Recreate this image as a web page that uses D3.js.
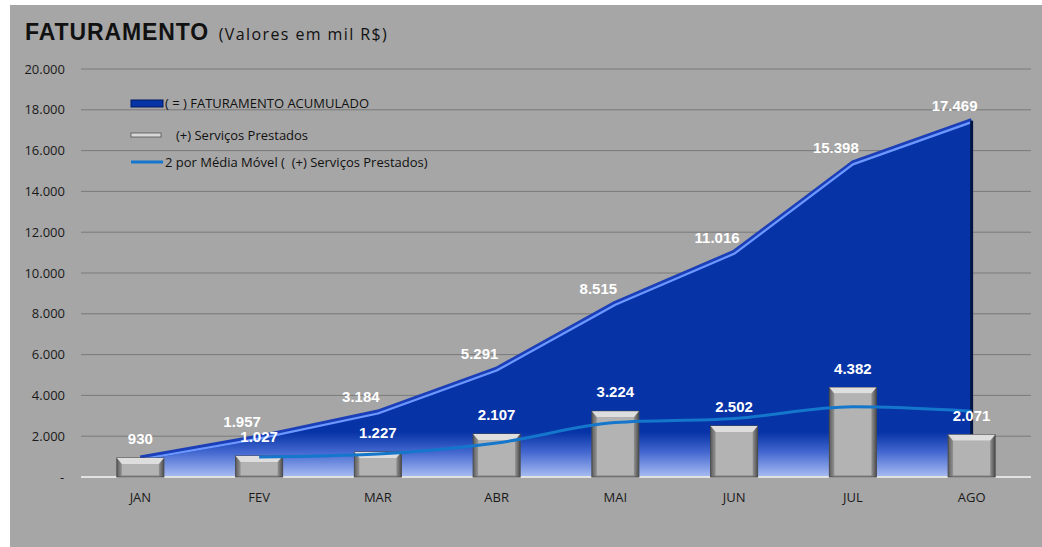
<!DOCTYPE html>
<html>
<head>
<meta charset="utf-8">
<script src="https://cdn.jsdelivr.net/npm/d3@7"></script>
<style>
  body { margin: 0; background: #fff; }
  svg { display: block; }
</style>
</head>
<body>
<div id="chart"></div>
<script>
// data
const months = ["JAN", "FEV", "MAR", "ABR", "MAI", "JUN", "JUL", "AGO"];
const acumulado = [930, 1957, 3184, 5291, 8515, 11016, 15398, 17469];
const servicos = [930, 1027, 1227, 2107, 3224, 2502, 4382, 2071];
// 2 period moving average, starts at FEV
const mediaMovel = [null, 979, 1127, 1667, 2666, 2863, 3442, 3227];
const yTicks = [0, 2000, 4000, 6000, 8000, 10000, 12000, 14000, 16000, 18000, 20000];

const W = 1042, H = 547;
const margin = { top: 69, right: 11, bottom: 70, left: 81 };

const fmt = v => v === 0 ? "-" : d3.format(",d")(v).replace(/,/g, ".");

const svg = d3.select("#chart").append("svg")
    .attr("width", W).attr("height", H)
    .style("font-family", "'Open Sans', 'Liberation Sans', sans-serif");

// panel
svg.append("rect").attr("x", 10).attr("y", 5).attr("width", W - 10).attr("height", H - 5).attr("fill", "#a6a6a6");

const x = d3.scaleBand().domain(months).range([margin.left, W - margin.right]);
const y = d3.scaleLinear().domain([0, 20000]).range([H - margin.bottom, margin.top]);
const cx = d => x(d) + x.bandwidth() / 2;

const defs = svg.append("defs");
const areaGrad = defs.append("linearGradient").attr("id", "areaGrad")
    .attr("gradientUnits", "userSpaceOnUse")
    .attr("x1", 0).attr("x2", 0).attr("y1", y(2200)).attr("y2", y(0));
areaGrad.append("stop").attr("offset", 0).attr("stop-color", "#0633a6");
areaGrad.append("stop").attr("offset", 0.45).attr("stop-color", "#4468d0");
areaGrad.append("stop").attr("offset", 1).attr("stop-color", "#a9bdf2");

const barGrad = defs.append("linearGradient").attr("id", "barGrad")
    .attr("x1", 0).attr("x2", 1).attr("y1", 0).attr("y2", 0);
barGrad.append("stop").attr("offset", 0).attr("stop-color", "#5e5e5e");
barGrad.append("stop").attr("offset", 0.12).attr("stop-color", "#9a9a9a");
barGrad.append("stop").attr("offset", 0.88).attr("stop-color", "#9a9a9a");
barGrad.append("stop").attr("offset", 1).attr("stop-color", "#4e4e4e");

// title
const title = svg.append("text").attr("x", 25).attr("y", 40);
title.append("tspan").text("FATURAMENTO")
    .attr("font-size", 23).attr("font-weight", "bold").attr("fill", "#111")
    .attr("font-family", "'Liberation Sans', sans-serif").attr("letter-spacing", 0.9);
title.append("tspan").text(" (Valores em mil R$)").attr("dx", 4)
    .attr("font-size", 16).attr("fill", "#111").attr("letter-spacing", 1.4);

// grid
svg.append("g").selectAll("line").data(yTicks.filter(d => d > 0)).join("line")
    .attr("x1", margin.left).attr("x2", W - margin.right)
    .attr("y1", d => y(d)).attr("y2", d => y(d))
    .attr("stroke", "#7a7a7a").attr("stroke-width", 1);

// y axis labels
svg.append("g").selectAll("text").data(yTicks).join("text")
    .attr("x", d => d === 0 ? 62 : 65).attr("y", d => y(d)).attr("dy", "0.35em")
    .attr("text-anchor", d => d === 0 ? "middle" : "end")
    .attr("font-size", 13).attr("fill", "#1a1a1a")
    .text(fmt);

// area: faturamento acumulado
const pts = months.map((m, i) => ({ m, v: acumulado[i] }));
const area = d3.area().x(d => cx(d.m)).y0(y(0)).y1(d => y(d.v));
svg.append("path").datum(pts).attr("d", area).attr("fill", "url(#areaGrad)");

const topLine = d3.line().x(d => cx(d.m)).y(d => y(d.v));
svg.append("path").datum(pts).attr("d", topLine)
    .attr("fill", "none").attr("stroke", "#1a3fb8").attr("stroke-width", 5).attr("stroke-linejoin", "round");
svg.append("path").datum(pts).attr("d", topLine)
    .attr("transform", "translate(0,1.5)")
    .attr("fill", "none").attr("stroke", "#6c98ff").attr("stroke-width", 2.2).attr("stroke-linejoin", "round");
// right edge shadow
const last = pts[pts.length - 1];
svg.append("line")
    .attr("x1", cx(last.m)).attr("x2", cx(last.m))
    .attr("y1", y(last.v)).attr("y2", y(0))
    .attr("stroke", "#001545").attr("stroke-width", 3);

// x axis baseline
svg.append("line")
    .attr("x1", margin.left).attr("x2", W - margin.right)
    .attr("y1", y(0)).attr("y2", y(0))
    .attr("stroke", "#e2e2e2").attr("stroke-width", 2);

// bars: servicos prestados
const bw = 47;
const bars = svg.append("g").selectAll("g").data(months.map((m, i) => ({ m, v: servicos[i] }))).join("g");
bars.append("rect")
    .attr("x", d => cx(d.m) - bw / 2).attr("y", d => y(d.v))
    .attr("width", bw).attr("height", d => y(0) - y(d.v))
    .attr("fill", "url(#barGrad)").attr("stroke", "#4a4a4a").attr("stroke-width", 1);
bars.append("path")
    .attr("d", d => {
        const x0 = cx(d.m) - bw / 2, x1 = x0 + bw, t = y(d.v);
        return `M${x0},${t}L${x1},${t}L${x1 - 5},${t + 6}L${x0 + 5},${t + 6}Z`;
    })
    .attr("fill", "#dedede");
bars.append("rect")
    .attr("x", d => cx(d.m) - bw / 2 + 5).attr("y", d => y(d.v) + 6)
    .attr("width", bw - 10).attr("height", d => Math.max(0, y(0) - y(d.v) - 8))
    .attr("fill", "#b3b3b3");

// moving average
const maPts = months.map((m, i) => ({ m, v: mediaMovel[i] })).filter(d => d.v != null);
svg.append("path").datum(maPts)
    .attr("d", d3.line().x(d => cx(d.m)).y(d => y(d.v)).curve(d3.curveMonotoneX))
    .attr("fill", "none").attr("stroke", "#1477cc").attr("stroke-width", 3);

// x labels
svg.append("g").selectAll("text").data(months).join("text")
    .attr("x", cx).attr("y", y(0) + 20).attr("dy", "0.35em")
    .attr("text-anchor", "middle").attr("font-size", 13).attr("fill", "#1a1a1a")
    .text(d => d);

// data labels
const lbl = g => g.attr("text-anchor", "middle").attr("font-size", 15).attr("font-weight", "bold")
    .attr("fill", "#fff").attr("font-family", "'Liberation Sans', sans-serif");
svg.append("g").selectAll("text").data(pts.slice(1)).join("text")
    .attr("x", d => cx(d.m) - 17).attr("y", d => y(d.v) - 15).attr("dy", "0.35em")
    .call(lbl).text(d => fmt(d.v));
svg.append("g").selectAll("text").data(months.map((m, i) => ({ m, v: servicos[i] }))).join("text")
    .attr("x", d => cx(d.m)).attr("y", d => y(d.v) - 19).attr("dy", "0.35em")
    .call(lbl).text(d => fmt(d.v));

// legend
const lg = svg.append("g").attr("font-size", 13).attr("fill", "#111");
lg.append("rect").attr("x", 131).attr("y", 100).attr("width", 32).attr("height", 7)
    .attr("fill", "#0633a6").attr("stroke", "#001a60");
lg.append("text").attr("x", 165).attr("y", 103).attr("dy", "0.35em").text("( = ) FATURAMENTO ACUMULADO");
lg.append("rect").attr("x", 131).attr("y", 133).attr("width", 30).attr("height", 4)
    .attr("fill", "#d8d8d8").attr("stroke", "#555").attr("stroke-width", 0.8);
lg.append("text").attr("x", 176).attr("y", 135).attr("dy", "0.35em").text("(+) Serviços Prestados");
lg.append("line").attr("x1", 131).attr("x2", 163).attr("y1", 162).attr("y2", 162)
    .attr("stroke", "#1477cc").attr("stroke-width", 3);
lg.append("text").attr("x", 165).attr("y", 162).attr("dy", "0.35em").attr("xml:space", "preserve")
    .text("2 por Média Móvel (  (+) Serviços Prestados)");
</script>
</body>
</html>
